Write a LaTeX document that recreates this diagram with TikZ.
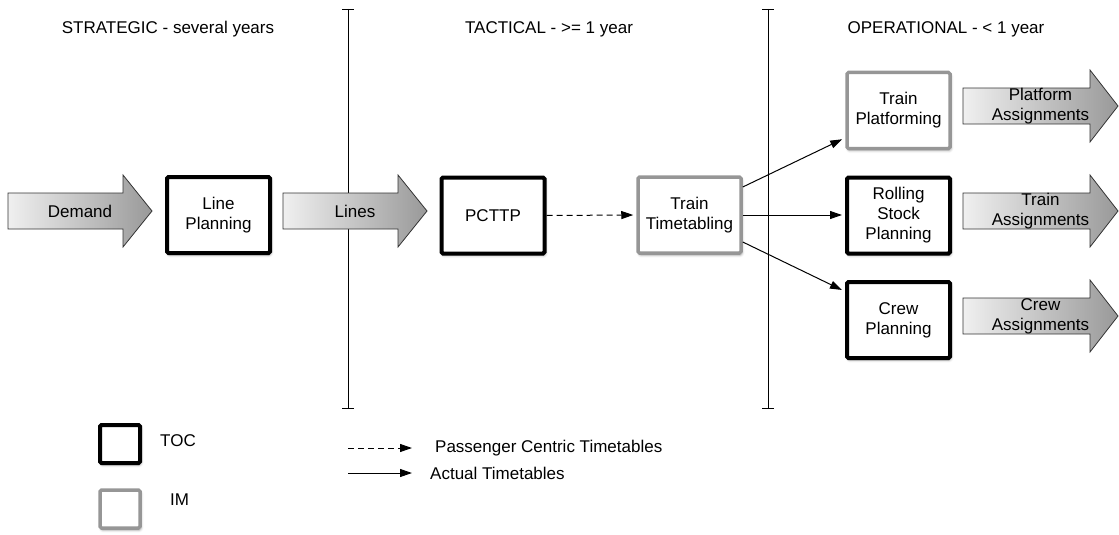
\documentclass[tikz,border=0pt]{standalone}
\usepackage{fontspec}
\setmainfont{Liberation Sans}
\usetikzlibrary{arrows.meta,shadows.blur}
\definecolor{imgray}{RGB}{150,150,150}
\tikzset{
  txt/.style={font=\fontsize{17}{20}\selectfont, inner sep=0pt, align=center},
  boxbase/.style={txt, fill=white, rounded corners=1.5pt, minimum width=103pt, minimum height=76pt,
     blur shadow={shadow xshift=1pt, shadow yshift=-2pt, shadow blur radius=2.5pt, shadow opacity=35}},
  tocbox/.style={boxbase, draw=black, line width=4pt},
  imbox/.style={boxbase, draw=imgray, line width=3.5pt},
  fatarrowstyle/.style={draw=black!80, line width=0.8pt, left color=gray!12, right color=gray!80},
  conn/.style={line width=1pt, -{Triangle[length=12pt,width=8pt]}},
  dconn/.style={conn, dash pattern=on 6pt off 4pt},
  phase/.style={line width=0.9pt},
}
\newcommand\fatarrow[6]{%
  \path[fatarrowstyle] (#2,#5-18) -- (#3,#5-18) -- (#3,#5-36) -- (#4,#5) -- (#3,#5+36) -- (#3,#5+18) -- (#2,#5+18) -- cycle;
  \node[txt] (#1) at ({(#2+#4)/2},#5) {#6};}
\begin{document}
\begin{tikzpicture}[x=1pt,y=-1pt]
\useasboundingbox (0,0) rectangle (1119,535);
% phase separators
\coordinate (s1t) at (348,9); \coordinate (s1b) at (348,408);
\coordinate (s2t) at (768,9); \coordinate (s2b) at (768,408);
\draw[phase] (s1t) -- (s1b);
\draw[phase] ([xshift=-6pt]s1t) -- ([xshift=6pt]s1t);
\draw[phase] ([xshift=-6pt]s1b) -- ([xshift=6pt]s1b);
\draw[phase] (s2t) -- (s2b);
\draw[phase] ([xshift=-6pt]s2t) -- ([xshift=6pt]s2t);
\draw[phase] ([xshift=-6pt]s2b) -- ([xshift=6pt]s2b);
% headers
\node[txt] (h1) at (168,29) {STRATEGIC - several years};
\node[txt] (h2) at (549,29) {TACTICAL - >= 1 year};
\node[txt] (h3) at (946,29) {OPERATIONAL - < 1 year};
% fat arrows
\fatarrow{demand}{8}{123}{152}{211}{Demand}
\fatarrow{lines}{283}{398}{427}{211}{Lines}
\fatarrow{pa}{963}{1090}{1118}{106}{Platform\\Assignments}
\fatarrow{ta}{963}{1090}{1118}{211}{Train\\Assignments}
\fatarrow{ca}{963}{1090}{1118}{316}{Crew\\Assignments}
% boxes
\node[tocbox] (lp) at (218.5,215) {Line\\Planning};
\node[tocbox] (pcttp) at (493,215.5) {PCTTP};
\node[imbox] (tt) at (689.5,215) {Train\\Timetabling};
\node[imbox] (tp) at (898.5,110.5) {Train\\Platforming};
\node[tocbox] (rs) at (898.5,215.5) {Rolling\\Stock\\Planning};
\node[tocbox] (cp) at (898.5,320) {Crew\\Planning};
% connectors
\draw[dconn] (pcttp.east) -- ([xshift=-3pt]tt.west);
\draw[conn] ([yshift=28pt]tt.east) -- ([xshift=-3pt,yshift=11pt]tp.south west);
\draw[conn] (tt.east) -- ([xshift=-3pt]tt.east -| rs.west);
\draw[conn] ([yshift=-27pt]tt.east) -- ([xshift=-3pt,yshift=-10pt]cp.north west);
% legend
\node[tocbox, minimum width=40pt, minimum height=38pt] (ltoc) at (120,444) {};
\node[txt, anchor=west] (ltoct) at (160,441) {TOC};
\node[imbox, minimum width=40pt, minimum height=38pt] (lim) at (120,509) {};
\node[txt, anchor=west] (limt) at (170,500) {IM};
\coordinate (ld1) at (348,448); \coordinate (ld2) at (412,448);
\draw[dconn] (ld1) -- (ld2);
\node[txt, anchor=west] (ldt) at (435,448) {Passenger Centric Timetables};
\coordinate (ls1) at (348,473); \coordinate (ls2) at (412,473);
\draw[conn] (ls1) -- (ls2);
\node[txt, anchor=west] (lst) at (430,473) {Actual Timetables};
\end{tikzpicture}
\end{document}
